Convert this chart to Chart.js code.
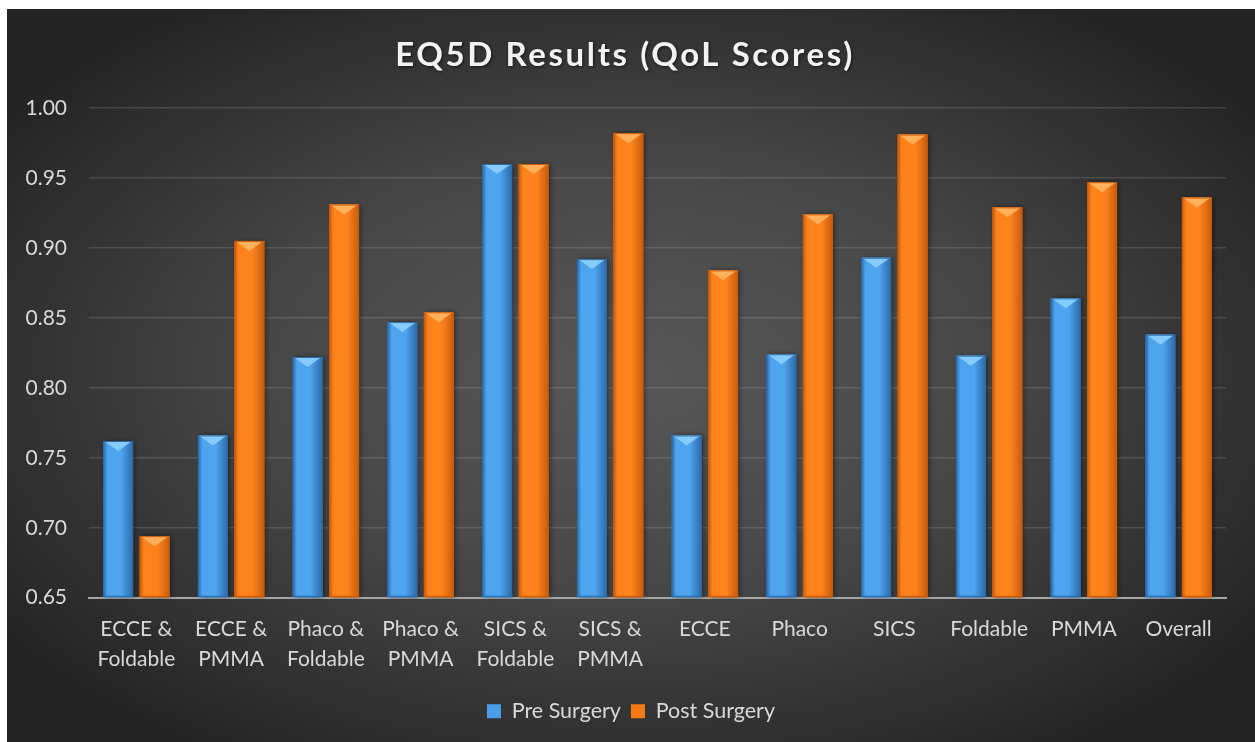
<!DOCTYPE html>
<html>
<head>
<meta charset="utf-8">
<script src="https://cdn.jsdelivr.net/npm/chart.js"></script>
<style>
html, body { margin: 0; padding: 0; background: #fff; }
#wrap { position: absolute; left: 7px; top: 9px; width: 1248px; height: 733px; }
</style>
</head>
<body>
<div id="wrap"><canvas id="barChart"></canvas></div>
<script>
// chart data
const categories = [
    ["ECCE &", "Foldable"], ["ECCE &", "PMMA"], ["Phaco &", "Foldable"], ["Phaco &", "PMMA"],
    ["SICS &", "Foldable"], ["SICS &", "PMMA"], "ECCE", "Phaco", "SICS", "Foldable", "PMMA", "Overall"
];
const preSurgery  = [0.762, 0.766, 0.822, 0.847, 0.960, 0.892, 0.766, 0.824, 0.893, 0.823, 0.864, 0.838];
const postSurgery = [0.694, 0.905, 0.931, 0.854, 0.960, 0.982, 0.884, 0.924, 0.981, 0.929, 0.947, 0.936];
const seriesNames = ["Pre Surgery", "Post Surgery"];
const yMin = 0.65, yMax = 1.00, yStep = 0.05;
const chartTitle = "EQ5D Results (QoL Scores)";

const FONT = "Lato, 'Noto Sans', sans-serif";

// dark radial background
const backgroundPlugin = {
    id: 'bg',
    beforeDraw(chart) {
        const ctx = chart.ctx, w = chart.width, h = chart.height;
        ctx.save();
        ctx.translate(w * 0.5, h * 0.5);
        ctx.scale(1, h / w);
        const g = ctx.createRadialGradient(0, 0, 0, 0, 0, w * 0.62);
        g.addColorStop(0, '#575757');
        g.addColorStop(0.45, '#484848');
        g.addColorStop(1, '#232323');
        ctx.fillStyle = g;
        ctx.fillRect(-w, -w, w * 2, w * 2);
        ctx.restore();
    }
};

// spaced-out title with soft shadow
const titlePlugin = {
    id: 'spacedTitle',
    afterDraw(chart) {
        const ctx = chart.ctx;
        ctx.save();
        ctx.font = "bold 33px " + FONT;
        ctx.letterSpacing = "2.6px";
        ctx.fillStyle = '#f2f2f2';
        ctx.textAlign = 'center';
        ctx.textBaseline = 'middle';
        ctx.shadowColor = 'rgba(0,0,0,0.6)';
        ctx.shadowBlur = 3;
        ctx.shadowOffsetX = 1;
        ctx.shadowOffsetY = 1;
        ctx.fillText(chartTitle, 618, 46);
        ctx.restore();
    }
};

// glossy bars with bevelled top
const bevelPlugin = {
    id: 'bevel',
    afterDatasetsDraw(chart) {
        const ctx = chart.ctx;
        const bottom = chart.chartArea.bottom;
        const shades = [
            { edge: '#2c6aa8', mid: '#4ea4ee', top: '#8fd3ff' },
            { edge: '#c85b0c', mid: '#ff831c', top: '#ffb866' }
        ];
        chart.data.datasets.forEach(function(ds, di) {
            const meta = chart.getDatasetMeta(di);
            const s = shades[di];
            meta.data.forEach(function(bar) {
                const l = bar.x - bar.width / 2, r = bar.x + bar.width / 2;
                const t = bar.y, b = Math.min(bar.base, bottom) - 1;
                const g = ctx.createLinearGradient(l, 0, r, 0);
                g.addColorStop(0, s.edge);
                g.addColorStop(0.15, s.mid);
                g.addColorStop(0.6, s.mid);
                g.addColorStop(1, s.edge);
                ctx.save();
                ctx.shadowColor = 'rgba(0,0,0,0.45)';
                ctx.shadowBlur = 5;
                ctx.shadowOffsetX = 2;
                ctx.fillStyle = g;
                ctx.fillRect(l, t, r - l, b - t);
                ctx.restore();
                ctx.save();
                ctx.fillStyle = s.top;
                ctx.globalAlpha = 0.85;
                ctx.beginPath();
                ctx.moveTo(l + 1, t);
                ctx.lineTo(r - 1, t);
                ctx.lineTo(bar.x, t + 10);
                ctx.closePath();
                ctx.fill();
                ctx.restore();
                ctx.strokeStyle = s.edge;
                ctx.lineWidth = 1;
                ctx.strokeRect(l + 0.5, t + 0.5, r - l - 1, b - t - 1);
            });
        });
    }
};

var barChart = new Chart(document.getElementById("barChart"), {
    type: 'bar',
    data: {
        labels: categories,
        datasets: [
            {
                label: seriesNames[0],
                data: preSurgery,
                backgroundColor: '#4a9ee8',
                borderWidth: 0,
                categoryPercentage: 0.77,
                barPercentage: 0.82
            },
            {
                label: seriesNames[1],
                data: postSurgery,
                backgroundColor: '#f57a16',
                borderWidth: 0,
                categoryPercentage: 0.77,
                barPercentage: 0.82
            }
        ]
    },
    options: {
        responsive: true,
        maintainAspectRatio: false,
        animation: false,
        layout: { padding: { top: 99, right: 0, left: 0, bottom: 10 } },
        plugins: {
            title: { display: false },
            tooltip: { enabled: false },
            legend: {
                position: 'bottom',
                labels: {
                    color: '#d9d9d9',
                    font: { family: FONT, size: 21.5 },
                    boxWidth: 14,
                    boxHeight: 14,
                    padding: 10
                }
            }
        },
        scales: {
            x: {
                grid: { display: false, drawTicks: false },
                border: { display: true, color: '#a6a6a6', width: 2 },
                ticks: {
                    color: '#d9d9d9',
                    font: { family: FONT, size: 21, lineHeight: 1.4 },
                    padding: 17,
                    maxRotation: 0,
                    autoSkip: false
                }
            },
            y: {
                min: yMin,
                max: yMax,
                afterFit: function(scale) { scale.width = 82; },
                grid: { color: 'rgba(255,255,255,0.13)', lineWidth: 1.5, drawTicks: false },
                border: { display: false },
                ticks: {
                    stepSize: yStep,
                    color: '#d9d9d9',
                    font: { family: FONT, size: 21 },
                    padding: 22,
                    callback: function(v) { return v.toFixed(2); }
                }
            },
            // empty right-hand margin so the legend stays centred on the whole chart
            yRight: {
                position: 'right',
                min: yMin,
                max: yMax,
                afterFit: function(scale) { scale.width = 29; },
                grid: { display: false, drawTicks: false },
                border: { display: false },
                ticks: { display: false }
            }
        }
    },
    plugins: [backgroundPlugin, bevelPlugin, titlePlugin]
});
</script>
</body>
</html>
